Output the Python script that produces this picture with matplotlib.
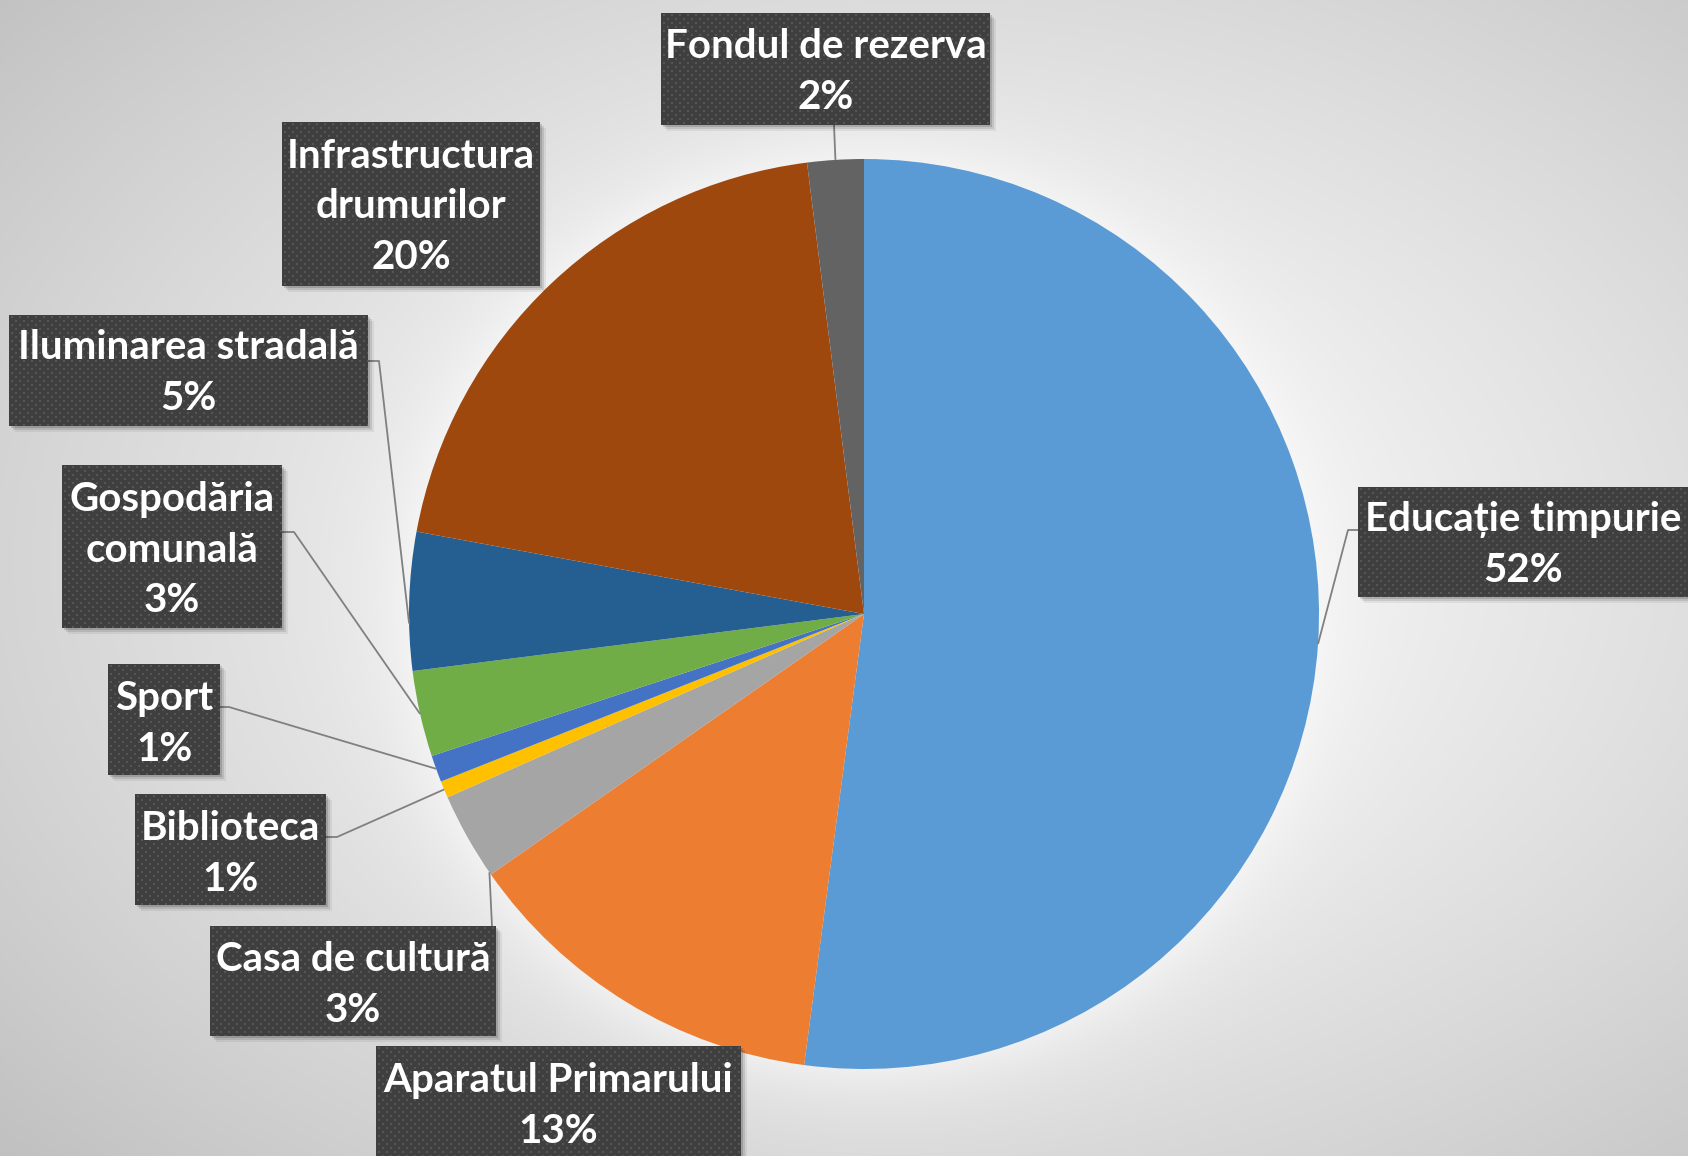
import numpy as np
import matplotlib
matplotlib.use("Agg")
import matplotlib.pyplot as plt
from matplotlib.patches import Rectangle

# ---- data ----
categories = ["Educație timpurie", "Aparatul Primarului", "Casa de cultură", "Biblioteca",
              "Sport", "Gospodăria\ncomunală", "Iluminarea stradală",
              "Infrastructura\ndrumurilor", "Fondul de rezerva"]
shares = [52.1, 13.2, 3.1, 0.6, 0.95, 3.05, 4.9, 20.1, 2.0]
colors = ["#5B9BD5", "#ED7D31", "#A5A5A5", "#FFC000", "#4472C4",
          "#70AD47", "#255E91", "#9E480E", "#636363"]

# ---- layout (pixel coords, top-down) ----
W, H = 1688, 1156
PCX, PCY, R = 864, 614, 455
boxes = [
    (1358, 487, 1700, 597),
    (376, 1046, 741, 1170),
    (210, 926, 496, 1036),
    (135, 794, 326, 905),
    (108, 664, 220, 775),
    (62, 465, 282, 628),
    (9, 315, 368, 426),
    (282, 122, 540, 286),
    (661, 13, 990, 125),
]
text_centers = [
    (1523, 545), (558, 1106), (353, 985), (230, 854), (164, 724),
    (172, 550), (188, 373), (411, 207), (826, 72),
]
leaders = [
    ([(1358, 530), (1348, 530)], 0.5),
    None,
    ([(492, 926)], 0.97),
    ([(326, 837), (337, 837)], 0.5),
    ([(220, 707), (229, 707)], 0.5),
    ([(282, 532), (294, 532)], 0.5),
    ([(368, 361), (379, 361)], 0.66),
    None,
    ([(834, 125)], 0.5),
]

FONT = ["Lato", "Open Sans", "DejaVu Sans"]


def Y(y):
    return H - y


fig = plt.figure(figsize=(W / 100, H / 100), dpi=100)
ax = fig.add_axes([0, 0, 1, 1])

# background radial gradient with soft glow around the pie
yy, xx = np.mgrid[0:H, 0:W] + 0.5
d = np.sqrt(((xx - 950) / (W / 2)) ** 2 + ((yy - 560) / (H / 2)) ** 2) / np.sqrt(2)
bg = 250 - 52 * d ** 1.4
rr = np.hypot(xx - PCX, yy - PCY)
glow = np.exp(-np.clip(rr - R, 0, None) / 40.0)
bg = bg + (250 - bg) * glow * 0.6
img = np.clip(bg, 0, 255) / 255.0
ax.imshow(np.dstack([img] * 3), extent=(0, W, 0, H), origin="upper",
          zorder=0, interpolation="bilinear")

wedges, _ = ax.pie(shares, colors=colors, startangle=90, counterclock=False,
                   center=(PCX, Y(PCY)), radius=R,
                   wedgeprops=dict(linewidth=0))
for w in wedges:
    w.set_zorder(1)

# leader lines
for w, ld in zip(wedges, leaders):
    if ld is None:
        continue
    pts, t = ld
    ang = np.deg2rad(w.theta1 + t * (w.theta2 - w.theta1))
    ex = PCX + R * np.cos(ang)
    ey = Y(PCY) + R * np.sin(ang)
    xs = [p[0] for p in pts] + [ex]
    ys = [Y(p[1]) for p in pts] + [ey]
    ax.plot(xs, ys, color="#808080", lw=1.3, zorder=2, solid_capstyle="butt")

# texture for boxes
def texture(wpx, hpx):
    base = np.full((hpx, wpx), 0x3f / 255.0)
    for r in range(1, hpx, 4):
        off = 2 if (r // 4) % 2 == 0 else 6
        for c in range(off, wpx, 8):
            base[r:r + 2, c:c + 2] = 0x56 / 255.0
    return np.dstack([base] * 3)

total = sum(shares)
for cat, v, b, tc in zip(categories, shares, boxes, text_centers):
    x0, y0, x1, y1 = b
    # shadow
    for k, a in [(6, 0.06), (4, 0.10), (2, 0.14)]:
        ax.add_patch(Rectangle((x0 + k, Y(y1) - k), x1 - x0, y1 - y0,
                               facecolor="black", edgecolor="none", alpha=a, zorder=3))
    ax.imshow(texture(x1 - x0, y1 - y0), extent=(x0, x1, Y(y1), Y(y0)),
              origin="upper", interpolation="nearest", zorder=4)
    pct = int(round(v / total * 100))
    ax.text(tc[0], Y(tc[1]), f"{cat}\n{pct}%", ha="center", va="center",
            color="white", fontsize=29, fontweight="bold", family=FONT,
            linespacing=1.45, zorder=5)

ax.set_xlim(0, W)
ax.set_ylim(0, H)
ax.set_aspect("auto")
ax.axis("off")
fig.savefig("out.png", dpi=100)
